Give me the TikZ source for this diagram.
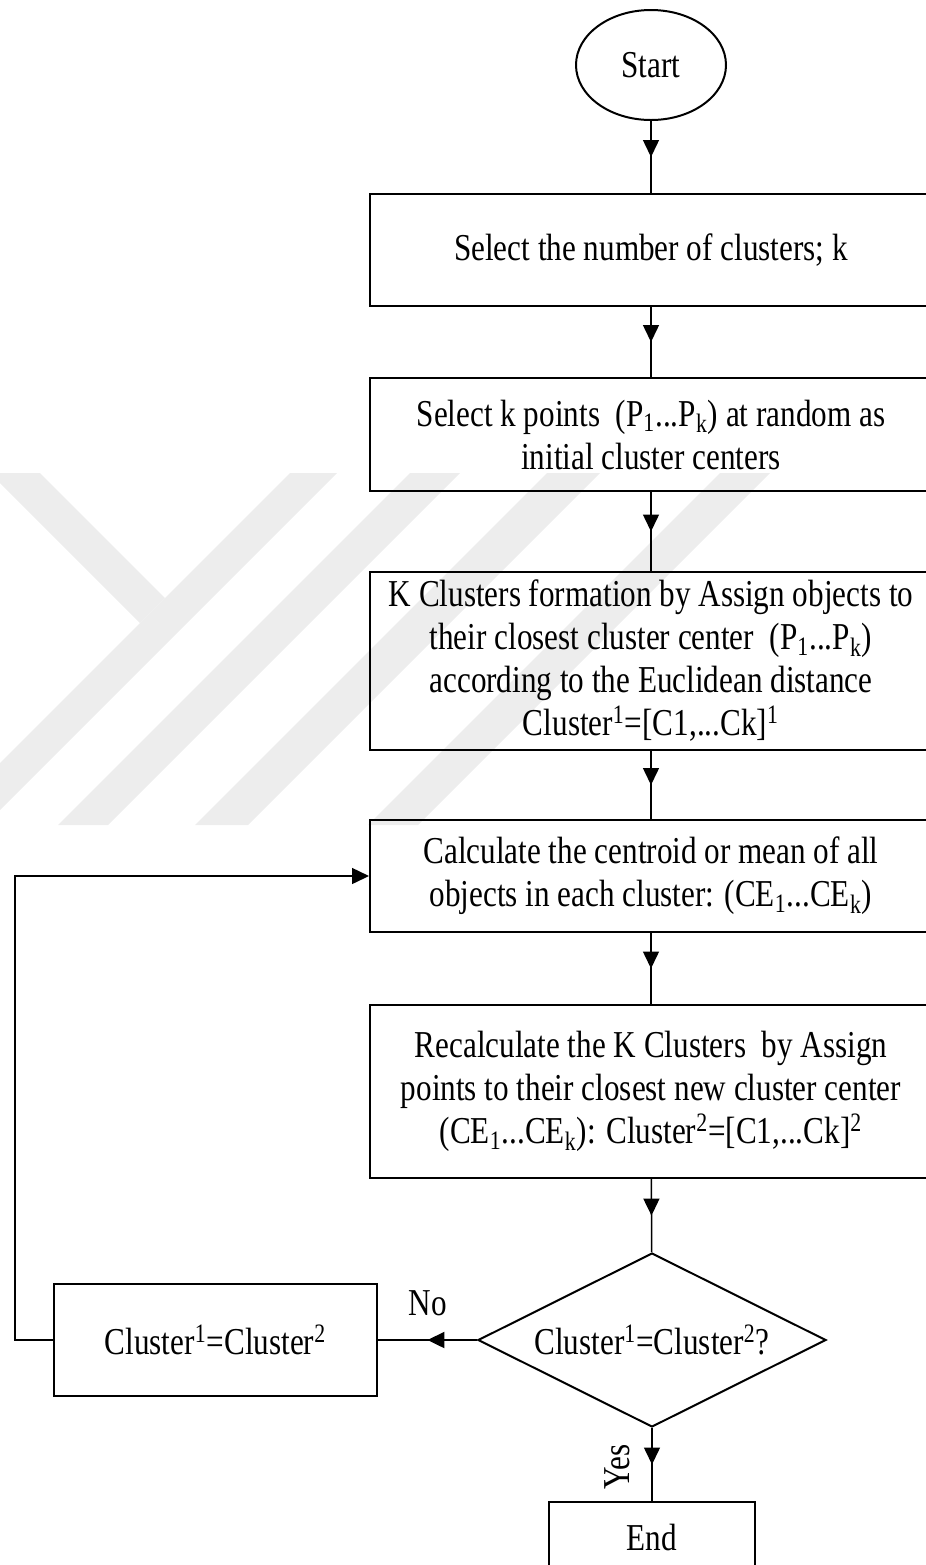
\documentclass[tikz,border=0pt]{standalone}
\usepackage{fontspec}
\setmainfont{Liberation Serif}[FakeStretch=0.82]
\usetikzlibrary{shapes.geometric,arrows.meta,decorations.markings}

\begin{document}
\begin{tikzpicture}[
  x=0.5pt, y=-0.5pt,
  every node/.style={font=\fontsize{19}{21.5}\selectfont, align=center, inner sep=0pt},
  box/.style={draw, line width=1pt, minimum width=281pt},
  flow/.style={line width=0.75pt, postaction={decorate},
    decoration={markings, mark=at position 0.5 with {\arrow{Triangle[length=8.5pt,width=8pt]}}}},
  back/.style={line width=0.75pt, -{Triangle[length=8.5pt,width=8pt]}},
  stripe/.style={fill=black!7, draw=none}]
  \useasboundingbox (0,0) rectangle (926,1565);
  % faint watermark
  \foreach \xl/\w in {43/47, 163/50, 300/53, 473/50}
    \fill[stripe] (\xl+247,473) -- (\xl+247+\w,473) -- (\xl-105+\w,825) -- (\xl-105,825) -- cycle;
  \fill[stripe] (-10,473) -- (40,473) -- (165,598) -- (140,623) -- cycle;
  \node[draw, ellipse, line width=1pt, minimum width=75pt, minimum height=55pt] (start) at (651,65) {Start};
  \node[box, minimum height=56pt] (nclus) at (651,250) {Select the number of clusters; k};
  \node[box, minimum height=56.5pt] (init) at (651,434.5)
    {Select k points~ (P\textsubscript{1}...P\textsubscript{k}) at random as\\ initial cluster centers};
  \node[box, minimum height=89pt] (assign) at (651,661)
    {K Clusters formation by Assign objects to\\
     their closest cluster center~ (P\textsubscript{1}...P\textsubscript{k})\\
     according to the Euclidean distance\\
     Cluster\textsuperscript{1}=[C1,...Ck]\textsuperscript{1}};
  \node[box, minimum height=56pt] (calc) at (651,876)
    {Calculate the centroid or mean of all\\ objects in each cluster: (CE\textsubscript{1}...CE\textsubscript{k})};
  \node[box, minimum height=86.5pt] (recalc) at (651,1091.5)
    {Recalculate the K Clusters~ by Assign\\
     points to their closest new cluster center\\
     (CE\textsubscript{1}...CE\textsubscript{k}): Cluster\textsuperscript{2}=[C1,...Ck]\textsuperscript{2}};
  \node[draw, diamond, aspect=2, line width=1pt, minimum width=174pt, minimum height=87pt] (check) at (652,1340)
    {Cluster\textsuperscript{1}=Cluster\textsuperscript{2}?};
  \node[draw, line width=1pt, minimum width=161.5pt, minimum height=56pt] (swap) at (215.5,1340)
    {Cluster\textsuperscript{1}=Cluster\textsuperscript{2}};
  \node[draw, line width=1pt, minimum width=103pt, minimum height=35pt] (stop) at (652,1537) {End};
  \coordinate (turn) at (15,1340);
  % main flow
  \draw[flow] (start) -- (nclus);
  \draw[flow] (nclus) -- (init);
  \draw[flow] (init) -- (assign);
  \draw[flow] (assign) -- (calc);
  \draw[flow] (calc) -- (recalc);
  \draw[flow] (recalc) -- (check);
  \draw[flow] (check) -- (stop);
  \draw[flow, line width=1.2pt] (check) -- (swap);
  \draw[back] (swap.west) -- (turn) |- (calc.west);
  \node (no) at (428,1303) {No};
  \node[rotate=90] (yes) at (617,1467) {Yes};
\end{tikzpicture}
\end{document}
